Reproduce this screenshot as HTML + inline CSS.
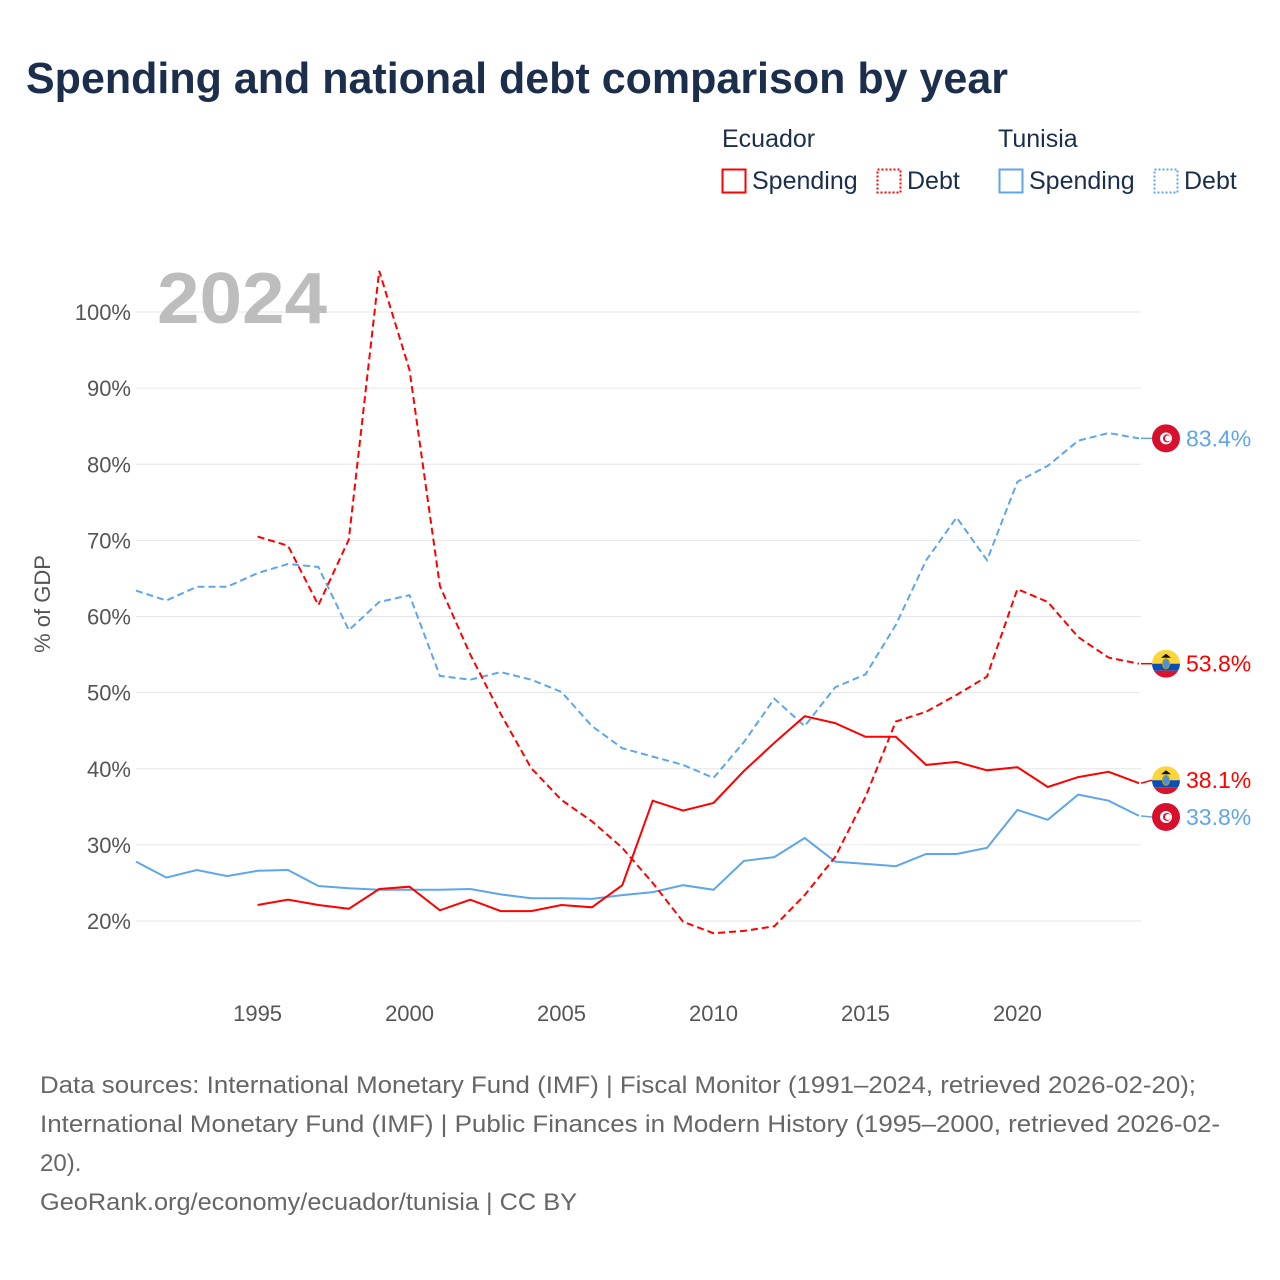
<!DOCTYPE html>
<html><head><meta charset="utf-8">
<style>
body{margin:0;background:#fff;width:1280px;height:1280px;overflow:hidden;font-family:"Liberation Sans",sans-serif}
svg{position:absolute;left:0;top:0}
</style></head>
<body>
<svg id="chart" width="1280" height="1280" xmlns="http://www.w3.org/2000/svg">
<text x="26" y="93" font-size="44" font-weight="bold" fill="#1b2f4d" textLength="982" lengthAdjust="spacingAndGlyphs">Spending and national debt comparison by year</text>
<g font-size="25" fill="#1b2f4d">
<text x="722" y="147" fill="#1b2f4d">Ecuador</text>
<text x="998" y="147" fill="#1b2f4d">Tunisia</text>
<g><rect x="722.5" y="169.5" width="23" height="23" fill="none" stroke="#f00" stroke-width="2"/><text x="752" y="189" fill="#1b2f4d">Spending</text></g>
<g><rect x="877.5" y="169.5" width="23" height="23" fill="none" stroke="#f00" stroke-width="2" stroke-dasharray="2,2"/><text x="907" y="189" fill="#1b2f4d">Debt</text></g>
<g><rect x="999.5" y="169.5" width="23" height="23" fill="none" stroke="#5ea6ea" stroke-width="2"/><text x="1029" y="189" fill="#1b2f4d">Spending</text></g>
<g><rect x="1154.5" y="169.5" width="23" height="23" fill="none" stroke="#5ea6ea" stroke-width="2" stroke-dasharray="2,2"/><text x="1184" y="189" fill="#1b2f4d">Debt</text></g>
</g>
<g id="grid"></g>
<text x="157" y="323" font-size="72" font-weight="bold" fill="#bdbdbd" textLength="170" lengthAdjust="spacingAndGlyphs">2024</text>
<g id="plot"></g>
<text transform="translate(50,604) rotate(-90)" text-anchor="middle" font-size="22" fill="#555">% of GDP</text>
<g font-size="24" fill="#666">
<text x="40" y="1093" textLength="1156" lengthAdjust="spacingAndGlyphs">Data sources: International Monetary Fund (IMF) | Fiscal Monitor (1991–2024, retrieved 2026-02-20);</text>
<text x="40" y="1132" textLength="1180" lengthAdjust="spacingAndGlyphs">International Monetary Fund (IMF) | Public Finances in Modern History (1995–2000, retrieved 2026-02-</text>
<text x="40" y="1171">20).</text>
<text x="40" y="1210" textLength="537" lengthAdjust="spacingAndGlyphs">GeoRank.org/economy/ecuador/tunisia | CC BY</text>
</g>
</svg>
<script>
const yTicks=[20,30,40,50,60,70,80,90,100];
const xTicks=[1995,2000,2005,2010,2015,2020];
const ecuYears=[1995,1996,1997,1998,1999,2000,2001,2002,2003,2004,2005,2006,2007,2008,2009,2010,2011,2012,2013,2014,2015,2016,2017,2018,2019,2020,2021,2022,2023,2024];
const ecuSpending=[22.1,22.8,22.1,21.6,24.2,24.5,21.4,22.8,21.3,21.3,22.1,21.8,24.7,35.8,34.5,35.5,39.7,43.4,46.9,46.0,44.2,44.2,40.5,40.9,39.8,40.2,37.6,38.9,39.6,38.1];
const ecuDebt=[70.5,69.3,61.5,70.1,105.4,92.4,64.0,55.0,47.2,40.1,35.9,33.1,29.6,25.0,19.9,18.4,18.7,19.3,23.4,28.4,36.3,46.2,47.5,49.7,52.1,63.6,61.9,57.3,54.6,53.8];
const tunYears=[1991,1992,1993,1994,1995,1996,1997,1998,1999,2000,2001,2002,2003,2004,2005,2006,2007,2008,2009,2010,2011,2012,2013,2014,2015,2016,2017,2018,2019,2020,2021,2022,2023,2024];
const tunSpending=[27.8,25.7,26.7,25.9,26.6,26.7,24.6,24.3,24.1,24.1,24.1,24.2,23.5,23.0,23.0,22.9,23.4,23.8,24.7,24.1,27.9,28.4,30.9,27.8,27.5,27.2,28.8,28.8,29.6,34.6,33.3,36.6,35.8,33.8];
const tunDebt=[63.4,62.1,63.9,63.9,65.7,66.9,66.5,58.2,61.9,62.8,52.2,51.7,52.7,51.7,50.1,45.6,42.7,41.6,40.5,38.8,43.5,49.2,45.6,50.7,52.4,58.9,67.4,73.0,67.4,77.7,79.8,83.1,84.1,83.4];
const NS='http://www.w3.org/2000/svg';
const X=y=>136+(y-1991)*(1139-136)/33;
const Y=v=>921-(v-20)*(921-312)/80;
function mk(t,a,p){const e=document.createElementNS(NS,t);for(const k in a)e.setAttribute(k,a[k]);p.appendChild(e);return e;}
const grid=document.getElementById('grid'),plot=document.getElementById('plot');
yTicks.forEach(v=>{
 const l=mk('line',{x1:136,x2:1141,y1:Y(v),y2:Y(v),stroke:'#e6e6e6','stroke-width':1},grid);
 
 
 const t=mk('text',{x:131,y:Y(v)+8,'text-anchor':'end','font-size':22,fill:'#555'},grid);
 t.textContent=v+'%';
 
 
});
xTicks.forEach(v=>{
 const t=mk('text',{x:X(v),y:1021,'text-anchor':'middle','font-size':22,fill:'#555'},grid);
 t.textContent=v;
 
 
});
function line(years,vals,color,dash,name){
 const d=years.map((y,i)=>(i?'L':'M')+X(y).toFixed(1)+','+Y(vals[i]).toFixed(1)).join('');
 const a={d:d,fill:'none',stroke:color,'stroke-width':2};
 if(dash)a['stroke-dasharray']='7,4';
 const p=mk('path',a,plot);
 
 
}
const RED='#f00',BLUE='#5ea6ea';
line(tunYears,tunDebt,BLUE,true,'tunisia-debt-line');
line(tunYears,tunSpending,BLUE,false,'tunisia-spending-line');
line(ecuYears,ecuDebt,RED,true,'ecuador-debt-line');
line(ecuYears,ecuSpending,RED,false,'ecuador-spending-line');
function endLabel(val,color,country,name,yy){
 const cx=1166,cy=yy;
 mk('line',{x1:1141,x2:1152,y1:Y(val),y2:cy,stroke:color,'stroke-width':1.5},plot);
 const g=mk('g',{},plot);
 
 
 if(country==='tun'){
  mk('circle',{cx:cx,cy:cy,r:14,fill:'#d90f2e'},g);
  mk('circle',{cx:cx,cy:cy,r:6,fill:'#fff'},g);
  mk('circle',{cx:cx+1,cy:cy,r:4,fill:'#d90f2e'},g);
  mk('circle',{cx:cx+2,cy:cy,r:3,fill:'#fff'},g);
 }else{
  const cp=mk('clipPath',{id:'c'+name},g);
  mk('circle',{cx:cx,cy:cy,r:14},cp);
  const gg=mk('g',{'clip-path':'url(#c'+name+')'},g);
  mk('rect',{x:cx-14,y:cy-14,width:28,height:14,fill:'#fcd43b'},gg);
  mk('rect',{x:cx-14,y:cy,width:28,height:7,fill:'#0a4fb5'},gg);
  mk('rect',{x:cx-14,y:cy+7,width:28,height:7,fill:'#d9142d'},gg);
  mk('ellipse',{cx:cx,cy:cy,rx:3.5,ry:5,fill:'#4a8fe0',stroke:'#c9a100','stroke-width':1},g);
  mk('path',{d:`M${cx-5},${cy-6}L${cx+5},${cy-6}L${cx},${cy-10}Z`,fill:'#111'},g);
 }
 const t=mk('text',{x:1186,y:cy+8,'font-size':23,fill:color},plot);
 t.textContent=val.toFixed(1)+'%';
 
 
}
endLabel(tunDebt[tunDebt.length-1],BLUE,'tun','tunisia-debt',Y(tunDebt[tunDebt.length-1]));
endLabel(ecuDebt[ecuDebt.length-1],RED,'ecu','ecuador-debt',Y(ecuDebt[ecuDebt.length-1]));
endLabel(ecuSpending[ecuSpending.length-1],RED,'ecu','ecuador-spending',Y(ecuSpending[ecuSpending.length-1])-3);
endLabel(tunSpending[tunSpending.length-1],BLUE,'tun','tunisia-spending',Y(tunSpending[tunSpending.length-1])+1);
</script>
</body></html>
